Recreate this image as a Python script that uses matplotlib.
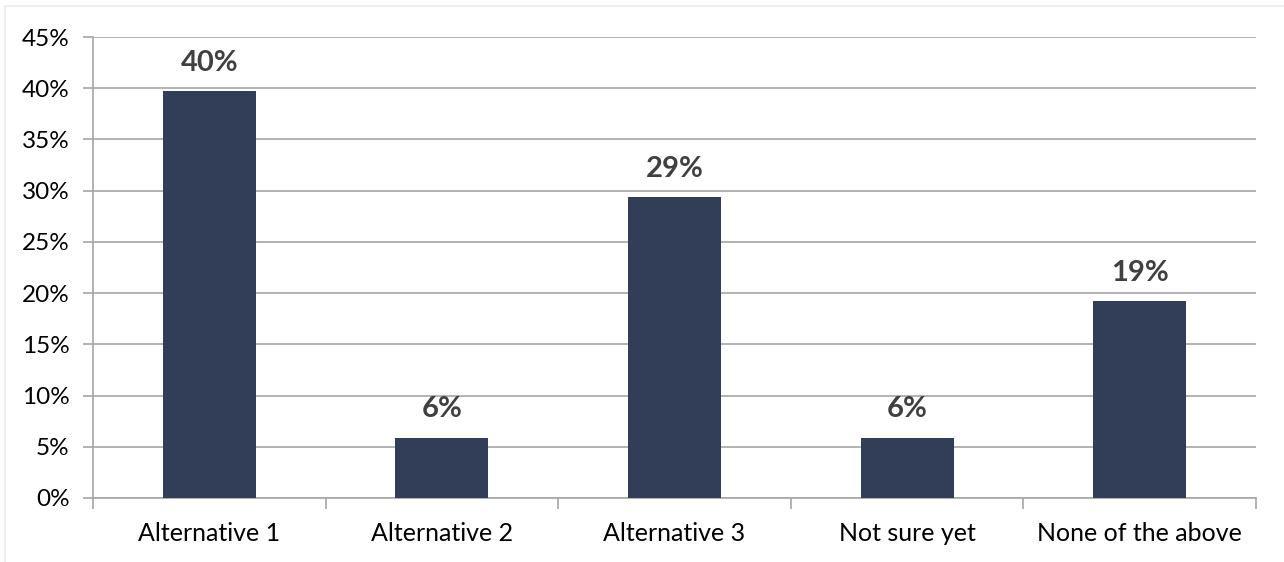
import matplotlib.pyplot as plt
from matplotlib.ticker import FixedLocator, PercentFormatter

plt.rcParams['font.family'] = ['Lato', 'DejaVu Sans']

categories = ["Alternative 1", "Alternative 2", "Alternative 3", "Not sure yet", "None of the above"]
values = [39.7, 5.9, 29.4, 5.9, 19.2]
labels = ["40%", "6%", "29%", "6%", "19%"]
yticks = [0, 5, 10, 15, 20, 25, 30, 35, 40, 45]

BAR = "#323e58"
GRID = "#a6a6a6"

fig = plt.figure(figsize=(12.84, 5.62), dpi=100)
# light outer chart border
fig.patches.append(plt.Rectangle((5 / 1284, -0.01), 1.02, 1 - 6 / 562 + 0.01,
                                 transform=fig.transFigure, fill=False,
                                 edgecolor="#ececec", linewidth=1.2))
ax = fig.add_axes([93 / 1284, 64 / 562, (1256 - 93) / 1284, (498 - 37) / 562])

x = range(len(categories))
bars = ax.bar(x, values, width=0.4, color=BAR, zorder=3)

for xi, v, lab in zip(x, values, labels):
    ax.annotate(lab, (xi, v), xytext=(0, 14.5), textcoords="offset points",
                ha="center", va="baseline", fontsize=21, fontweight="bold",
                color="#404040")

ax.set_xlim(-0.5, len(categories) - 0.5)
ax.set_ylim(0, 45)
ax.set_yticks(yticks)
ax.yaxis.set_major_formatter(PercentFormatter(decimals=0))
ax.yaxis.grid(True, color=GRID, linewidth=1.2, zorder=0)

ax.set_xticks(list(x))
ax.set_xticklabels(categories)
ax.xaxis.set_minor_locator(FixedLocator([i - 0.5 for i in range(len(categories) + 1)]))
ax.tick_params(axis="x", which="major", length=0, pad=17, labelsize=18)
ax.tick_params(axis="x", which="minor", length=8, color=GRID, width=1.2)
ax.tick_params(axis="y", length=7, color=GRID, width=1.2, labelsize=17.5, pad=10)

for side in ["top", "right"]:
    ax.spines[side].set_visible(False)
for side in ["left", "bottom"]:
    ax.spines[side].set_color(GRID)
    ax.spines[side].set_linewidth(1.2)

fig.savefig("out.png", dpi=100)
